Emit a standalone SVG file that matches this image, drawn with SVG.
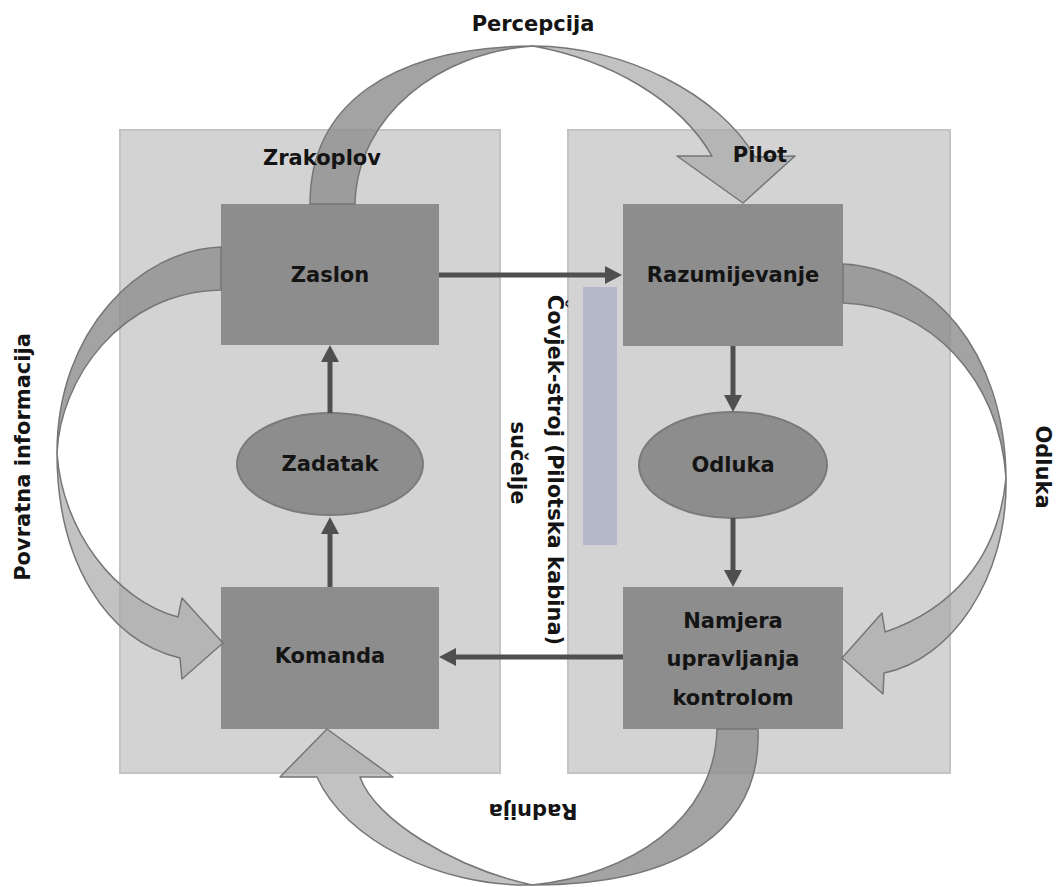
<svg xmlns="http://www.w3.org/2000/svg" width="1056" height="887" viewBox="0 0 1056 887">
  <style>
    .panel { fill: #d3d3d3; stroke: #c3c3c3; stroke-width: 2; }
    .box { fill: #8d8d8d; }
    .ell { fill: #8d8d8d; stroke: #7a7a7a; stroke-width: 2; }
    .lbl { font-family: "DejaVu Sans", Verdana, sans-serif; font-weight: bold; font-size: 21px; fill: #141414; text-anchor: middle; }
    .conn { stroke: #4f4f4f; stroke-width: 5; fill: none; marker-end: url(#ah); }
    .dark { fill: #919191; fill-opacity: 0.84; stroke: #767676; stroke-width: 1.5; stroke-linejoin: round; }
    .light { fill: #a8a8a8; fill-opacity: 0.7; stroke: #767676; stroke-width: 1.5; stroke-linejoin: round; }
  </style>
  <defs>
    <marker id="ah" markerWidth="18" markerHeight="20" refX="7" refY="10" orient="auto" markerUnits="userSpaceOnUse">
      <path d="M0,1 L17,10 L0,19 Z" fill="#4f4f4f"/>
    </marker>
  </defs>
  <rect width="1056" height="887" fill="#ffffff"/>

  <g id="panel-zrakoplov">
    <rect class="panel" x="120" y="130" width="380" height="643"/>
  </g>
  <g id="panel-pilot">
    <rect class="panel" x="568" y="130" width="382" height="643"/>
  </g>
  <g id="interface-bar">
    <rect x="583" y="287" width="34" height="258" fill="#b5b8c9"/>
  </g>

  <g id="node-zaslon">
    <rect class="box" x="221" y="204" width="218" height="141"/>
    <text class="lbl" x="330" y="282">Zaslon</text>
  </g>
  <g id="node-zadatak">
    <ellipse class="ell" cx="330" cy="464" rx="93" ry="51"/>
    <text class="lbl" x="330" y="471">Zadatak</text>
  </g>
  <g id="node-komanda">
    <rect class="box" x="221" y="587" width="218" height="142"/>
    <text class="lbl" x="330" y="663">Komanda</text>
  </g>
  <g id="node-razumijevanje">
    <rect class="box" x="623" y="204" width="220" height="142"/>
    <text class="lbl" x="733" y="282">Razumijevanje</text>
  </g>
  <g id="node-odluka">
    <ellipse class="ell" cx="733" cy="465" rx="94" ry="53"/>
    <text class="lbl" x="733" y="472">Odluka</text>
  </g>
  <g id="node-namjera">
    <rect class="box" x="623" y="587" width="220" height="142"/>
    <text class="lbl" x="733" y="628">Namjera</text>
    <text class="lbl" x="733" y="666">upravljanja</text>
    <text class="lbl" x="733" y="705">kontrolom</text>
  </g>

  <g id="connectors">
    <line class="conn" x1="439" y1="275" x2="612" y2="275"/>
    <line class="conn" x1="623" y1="657" x2="449" y2="657"/>
    <line class="conn" x1="330" y1="413" x2="330" y2="355"/>
    <line class="conn" x1="330" y1="587" x2="330" y2="527"/>
    <line class="conn" x1="733" y1="346" x2="733" y2="402"/>
    <line class="conn" x1="733" y1="518" x2="733" y2="577"/>
  </g>

  <g id="loop-percepcija">
    <path class="dark" d="M310,204 C310,105 390,47 533,46 C440,52 357,115 355,204 Z"/>
    <path class="light" d="M533,46 C625,46 720,95 755,157 L795,156 L743,203 L677,156 L712,156 C680,100 610,60 533,46 Z"/>
  </g>
  <g id="loop-povratna">
    <path class="dark" d="M221,247 C140,250 57,330 57,453 C60,380 120,292 221,290 Z"/>
    <path class="light" d="M57,453 C57,560 105,640 180,658 L182,679 L223,643 L182,598 L178,617 C115,600 62,530 57,453 Z"/>
  </g>
  <g id="loop-odluka">
    <path class="dark" d="M843,264 C930,268 1005,350 1006,478 C1000,380 930,305 843,303 Z"/>
    <path class="light" d="M1006,478 C1008,580 950,660 884,673 L883,694 L842,658 L882,613 L885,632 C950,610 998,560 1006,478 Z"/>
  </g>
  <g id="loop-radnija">
    <path class="dark" d="M758,729 C762,830 680,885 532,885 C630,875 715,820 717,729 Z"/>
    <path class="light" d="M532,885 C440,887 345,840 317,777 L280,777 L327,729 L393,777 L360,777 C375,820 455,868 532,885 Z"/>
  </g>

  <g id="labels">
    <text class="lbl" x="322" y="165">Zrakoplov</text>
    <text class="lbl" x="760" y="162">Pilot</text>
    <text class="lbl" x="533" y="31">Percepcija</text>
    <text class="lbl" transform="translate(23,457) rotate(-90)" x="0" y="7">Povratna informacija</text>
    <text class="lbl" transform="translate(1043,467) rotate(90)" x="0" y="7">Odluka</text>
    <text class="lbl" transform="translate(555,470) rotate(90)" x="0" y="7">Čovjek-stroj (Pilotska kabina)</text>
    <text class="lbl" transform="translate(518,463) rotate(90)" x="0" y="7">sučelje</text>
    <text class="lbl" transform="translate(533,811) rotate(180)" x="0" y="7">Radnija</text>
  </g>
</svg>
